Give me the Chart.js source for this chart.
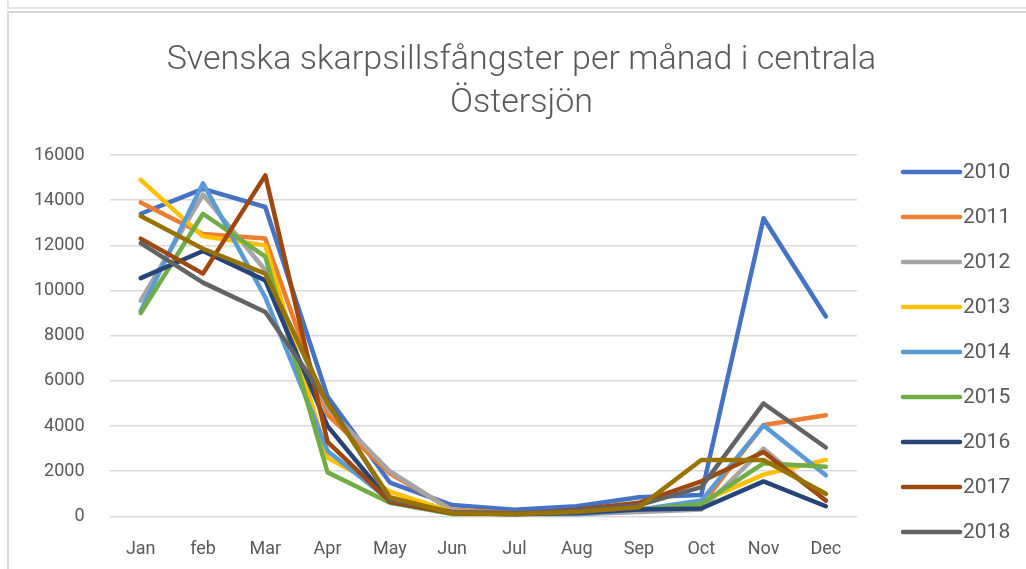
<!DOCTYPE html>
<html>
<head>
<meta charset="utf-8">
<script src="https://cdn.jsdelivr.net/npm/chart.js@4.4.1/dist/chart.umd.min.js"></script>
<style>
  html, body { margin: 0; padding: 0; background: #fff; }
  #wrap { position: relative; width: 1026px; height: 569px; overflow: hidden; }
  #c { position: absolute; left: 0; top: 0; }
  .bd { position: absolute; pointer-events: none; }
</style>
</head>
<body>
<div id="wrap">
  <canvas id="c" width="1046" height="592"></canvas>
  <div class="bd" style="left:7px;top:0;width:1.5px;height:8px;background:#e3e3e3"></div>
  <div class="bd" style="left:7px;top:7px;width:1019px;height:1.5px;background:#e6e6e6"></div>
  <div class="bd" style="left:7px;top:11px;width:1019px;height:1.7px;background:#d6d6d6"></div>
  <div class="bd" style="left:7px;top:11px;width:1.5px;height:558px;background:#d9d9d9"></div>
</div>
<script>
const months = ['Jan','feb','Mar','Apr','May','Jun','Jul','Aug','Sep','Oct','Nov','Dec'];
const seriesNames = ['2010','2011','2012','2013','2014','2015','2016','2017','2018','2019'];
const yTickMax = 16000;
const yTickStep = 2000;

const v2010 = [13400, 14500, 13700, 5300, 1500, 500, 300, 450, 850, 950, 13200, 8850];
const v2011 = [13900, 12500, 12300, 4500, 1900, 300, 150, 200, 300, 500, 4050, 4480];
const v2012 = [9550, 14250, 10900, 4800, 2000, 250, 100, 100, 200, 300, 3000, 700];
const v2013 = [14900, 12400, 12000, 2600, 1100, 200, 100, 200, 300, 650, 1850, 2500];
const v2014 = [9100, 14750, 9700, 2900, 700, 150, 100, 100, 300, 700, 4030, 1820];
const v2015 = [9000, 13400, 11500, 1950, 600, 100, 100, 200, 300, 550, 2350, 2200];
const v2016 = [10550, 11750, 10450, 4000, 650, 150, 100, 150, 300, 350, 1550, 450];
const v2017 = [12300, 10750, 15100, 3300, 650, 150, 100, 300, 600, 1550, 2850, 700];
const v2018 = [12100, 10350, 9050, 5100, 750, 200, 150, 250, 500, 1300, 5000, 3050];
const v2019 = [13300, 11850, 10750, 5000, 850, 150, 100, 200, 400, 2500, 2500, 1000];

const allValues = [v2010, v2011, v2012, v2013, v2014, v2015, v2016, v2017, v2018, v2019];
const colors = ['#4472C4','#ED7D31','#A5A5A5','#FFC000','#5B9BD5','#70AD47','#264478','#9E480E','#636363','#997300'];
const legendCount = 9; // the 10th legend entry is cut off in the reference

const FONT = 'Roboto, "Open Sans", sans-serif';
const TXT = '#595959';

const datasets = allValues.map((vals, i) => ({
  label: seriesNames[i],
  data: vals,
  yAxisID: 'y',
  borderColor: colors[i],
  backgroundColor: colors[i],
  borderWidth: 4.5,
  borderCapStyle: 'round',
  borderJoinStyle: 'round',
  pointRadius: 0,
  pointHoverRadius: 0,
  tension: 0,
  fill: false,
  order: allValues.length - 1 - i
}));

const legendPlugin = {
  id: 'sideLegend',
  afterDraw(chart) {
    const ctx = chart.ctx;
    ctx.save();
    const x0 = 903, x1 = 960, tx = 963, y0 = 172, dy = 45;
    chart.data.datasets.slice(0, legendCount).forEach((ds, i) => {
      const y = y0 + dy * i;
      ctx.strokeStyle = ds.borderColor;
      ctx.lineWidth = 4.5;
      ctx.lineCap = 'round';
      ctx.beginPath();
      ctx.moveTo(x0, y);
      ctx.lineTo(x1, y);
      ctx.stroke();
      ctx.fillStyle = TXT;
      ctx.font = '21px ' + FONT;
      ctx.textAlign = 'left';
      ctx.textBaseline = 'middle';
      ctx.fillText(ds.label, tx, y + 1);
    });
    ctx.restore();
  }
};

new Chart(document.getElementById('c'), {
  type: 'line',
  data: { labels: months, datasets },
  plugins: [legendPlugin],
  options: {
    responsive: false,
    animation: false,
    events: [],
    layout: { padding: { left: 9, right: 12, top: 15, bottom: 10 } },
    plugins: {
      legend: { display: false },
      tooltip: { enabled: false },
      title: {
        display: true,
        text: ['Svenska skarpsillsfångster per månad i centrala', 'Östersjön'],
        color: TXT,
        font: { family: FONT, size: 34, weight: 300, lineHeight: 1.265 },
        padding: { top: 23.5, bottom: 30.5 }
      }
    },
    scales: {
      x: {
        offset: true,
        grid: { display: false, drawTicks: false },
        border: { display: false },
        ticks: { color: TXT, font: { family: FONT, size: 18 }, padding: 22, maxRotation: 0, autoSkip: false }
      },
      y: {
        min: 0,
        max: yTickMax,
        grid: { color: '#d9d9d9', lineWidth: 1.5, drawTicks: false },
        border: { display: false },
        ticks: { stepSize: yTickStep, color: TXT, font: { family: FONT, size: 18 }, padding: 25,
                 callback: (v) => String(v) }
      },
      y2: {
        position: 'right',
        display: true,
        grid: { display: false, drawTicks: false },
        border: { display: false },
        ticks: { display: false },
        afterFit: (s) => { s.width = 177; }
      }
    }
  }
});
</script>
</body>
</html>
